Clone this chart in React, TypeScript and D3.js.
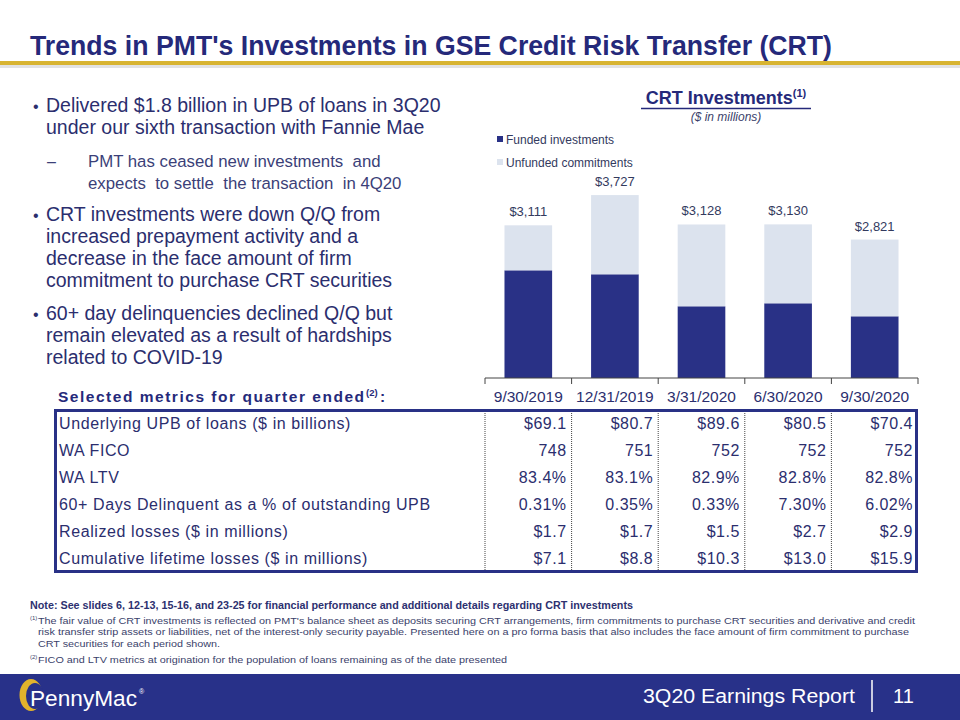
import React from "react";
import * as d3 from "d3";

const quarters = ["9/30/2019", "12/31/2019", "3/31/2020", "6/30/2020", "9/30/2020"];
const funded = [2194, 2113, 1461, 1522, 1257];
const unfunded = [917, 1614, 1667, 1608, 1564];
const seriesNames = ["Funded investments", "Unfunded commitments"];

const upbBillions = [69.1, 80.7, 89.6, 80.5, 70.4];
const waFico = [748, 751, 752, 752, 752];
const waLtv = [83.4, 83.1, 82.9, 82.8, 82.8];
const delinquentPct = [0.31, 0.35, 0.33, 7.3, 6.02];
const realizedLosses = [1.7, 1.7, 1.5, 2.7, 2.9];
const cumulativeLosses = [7.1, 8.8, 10.3, 13.0, 15.9];

const rowLabels = [
  "Underlying UPB of loans ($ in billions)",
  "WA FICO",
  "WA LTV",
  "60+ Days Delinquent as a % of outstanding UPB",
  "Realized losses ($ in millions)",
  "Cumulative lifetime losses ($ in millions)",
];

const bullets = [
  { lines: ["Delivered $1.8 billion in UPB of loans in 3Q20", "under our sixth transaction with Fannie Mae"], y: [112, 134] },
  { lines: ["CRT investments were down Q/Q from", "increased prepayment activity and a", "decrease in the face amount of firm", "commitment to purchase CRT securities"], y: [221, 243, 265, 287] },
  { lines: ["60+ day delinquencies declined Q/Q but", "remain elevated as a result of hardships", "related to COVID-19"], y: [320, 342, 364] },
];
const subBullet = { lines: ["PMT has ceased new investments  and", "expects  to settle  the transaction  in 4Q20"], y: [167, 189] };

const NAVY = "#293186";
const LIGHT = "#dce3ee";
const TEXT = "#2b2e6e";
const FONT = "'Liberation Sans', Arial, sans-serif";

export default function App() {
  const x = d3.scaleBand<string>().domain(quarters).range([485, 918]).paddingInner(0.45).paddingOuter(0.225);
  const y = d3.scaleLinear().domain([0, 4000]).range([378, 378 - 4000 * 0.04908]);
  const stack = d3.stack<number>().keys(["f", "u"]).value((i, k) => (k === "f" ? funded[i] : unfunded[i]));
  const layers = stack(quarters.map((_, i) => i) as any);
  const totals = quarters.map((_, i) => funded[i] + unfunded[i]);
  const fmtTotal = d3.format("$,");
  const f1 = d3.format(".1f");
  const f2 = d3.format(".2f");
  const rows: string[][] = [
    upbBillions.map((v) => "$" + f1(v)),
    waFico.map((v) => d3.format("d")(v)),
    waLtv.map((v) => f1(v) + "%"),
    delinquentPct.map((v) => f2(v) + "%"),
    realizedLosses.map((v) => "$" + f1(v)),
    cumulativeLosses.map((v) => "$" + f1(v)),
  ];
  const bounds = [485, ...quarters.map((q) => (x(q) as number) + x.bandwidth() + (x.step() - x.bandwidth()) / 2)];
  const rowY = (i: number) => 428.5 + i * 27;

  return (
    <svg width={960} height={720} style={{ position: "absolute", left: 0, top: 0, background: "#fff" }} fontFamily={FONT}>
      {/* Title */}
      <text x={30} y={55} fontSize={27} fontWeight="bold" fill="#25297a" fontFamily="'Liberation Sans Narrow', 'Arial Narrow', 'Liberation Sans', sans-serif" textLength={802} lengthAdjust="spacingAndGlyphs">
        Trends in PMT's Investments in GSE Credit Risk Transfer (CRT)
      </text>
      <rect x={0} y={65} width={960} height={3} fill="#cfcfcf" opacity={0.6} />
      <rect x={0} y={61} width={960} height={4} fill="#d8b431" />

      {/* Bullets */}
      {bullets.map((b, bi) => (
        <g key={bi}>
          <text x={33} y={b.y[0]} fontSize={16} fill={TEXT}>•</text>
          {b.lines.map((l, li) => (
            <text key={li} x={46} y={b.y[li]} fontSize={19.5} fill={TEXT} style={{ whiteSpace: "pre" }}>{l}</text>
          ))}
        </g>
      ))}
      <text x={47} y={subBullet.y[0]} fontSize={16} fill="#3b3f78">–</text>
      {subBullet.lines.map((l, li) => (
        <text key={li} x={88} y={subBullet.y[li]} fontSize={16.8} fill="#3b3f78" style={{ whiteSpace: "pre" }}>{l}</text>
      ))}

      {/* Chart title */}
      <text x={726} y={104} textAnchor="middle" fontSize={18} fontWeight="bold" fill="#25297a">
        CRT Investments<tspan fontSize={11} dy={-7}>(1)</tspan>
      </text>
      <line x1={641} x2={811} y1={108.5} y2={108.5} stroke="#25297a" strokeWidth={1.5} />
      <text x={726} y={121} textAnchor="middle" fontSize={12} fontStyle="italic" fill="#3b3f6b">($ in millions)</text>

      {/* Legend */}
      {seriesNames.map((s, i) => (
        <g key={s}>
          <rect x={497} y={136 + i * 23} width={6} height={6} fill={i === 0 ? NAVY : LIGHT} />
          <text x={506} y={143.5 + i * 23} fontSize={12} fill="#333a5e">{s}</text>
        </g>
      ))}

      {/* Bars */}
      {layers.map((layer, li) => (
        <g key={li}>
          {layer.map((d, i) => (
            <rect key={i} x={x(quarters[i])} y={y(d[1])} width={x.bandwidth()} height={y(d[0]) - y(d[1])} fill={li === 0 ? NAVY : LIGHT} />
          ))}
        </g>
      ))}
      {totals.map((t, i) => (
        <text key={i} x={(x(quarters[i]) as number) + x.bandwidth() / 2} y={y(t) - 9} textAnchor="middle" fontSize={13} fill="#333a5e">
          {fmtTotal(t)}
        </text>
      ))}
      {/* Axis */}
      <line x1={485} x2={918} y1={378} y2={378} stroke="#444" strokeWidth={1} />
      {bounds.map((b, i) => (
        <line key={i} x1={b} x2={b} y1={378} y2={384} stroke="#444" strokeWidth={1} />
      ))}

      {/* Table header */}
      <text x={58} y={402} fontSize={15.5} fontWeight="bold" fill="#25297a" textLength={306} lengthAdjust="spacing">
        Selected metrics for quarter ended
      </text>
      <text x={366} y={396} fontSize={9.5} fontWeight="bold" fill="#25297a">(2)</text>
      <text x={380} y={402} fontSize={15.5} fontWeight="bold" fill="#25297a">:</text>
      {quarters.map((q) => (
        <text key={q} x={(x(q) as number) + x.bandwidth() / 2} y={402} textAnchor="middle" fontSize={15.5} fill={TEXT}>{q}</text>
      ))}

      {/* Table */}
      {bounds.slice(0, 5).map((b, i) => (
        <line key={i} x1={b} x2={b} y1={411} y2={571} stroke="#444" strokeWidth={1} strokeDasharray="1,1" />
      ))}
      <rect x={55.5} y={410.5} width={861} height={161} fill="none" stroke={NAVY} strokeWidth={3} />
      {rowLabels.map((r, i) => (
        <text key={r} x={59} y={rowY(i)} fontSize={16} letterSpacing={0.6} fill={TEXT}>{r}</text>
      ))}
      {rows.map((row, ri) =>
        row.map((v, ci) => (
          <text key={ri + "-" + ci} x={bounds[ci + 1] - 5} y={rowY(ri)} textAnchor="end" fontSize={16} letterSpacing={0.5} fill={TEXT}>{v}</text>
        ))
      )}

      {/* Footnotes */}
      <text x={30} y={609} fontSize={10} fontWeight="bold" fill="#2d3170" textLength={603} lengthAdjust="spacingAndGlyphs">
        Note: See slides 6, 12-13, 15-16, and 23-25 for financial performance and additional details regarding CRT investments
      </text>
      <text x={30} y={620} fontSize={6} fill="#3b3f6b">(1)</text>
      <text x={38} y={624} fontSize={9.5} fill="#3b3f6b" textLength={877} lengthAdjust="spacingAndGlyphs">
        The fair value of CRT investments is reflected on PMT's  balance sheet as deposits securing CRT arrangements, firm commitments  to purchase CRT securities and derivative and credit
      </text>
      <text x={38} y={635} fontSize={9.5} fill="#3b3f6b" textLength={871} lengthAdjust="spacingAndGlyphs">
        risk transfer strip assets or liabilities, net of the interest-only security payable.  Presented here on a pro forma basis that also includes the face amount of firm commitment  to purchase
      </text>
      <text x={38} y={647} fontSize={9.5} fill="#3b3f6b" textLength={182} lengthAdjust="spacingAndGlyphs">
        CRT  securities for each period shown.
      </text>
      <text x={30} y={659} fontSize={6} fill="#3b3f6b">(2)</text>
      <text x={38} y={663} fontSize={9.5} fill="#3b3f6b" textLength={469} lengthAdjust="spacingAndGlyphs">
        FICO  and LTV metrics at origination  for the population  of loans remaining  as of the date presented
      </text>

      {/* Footer */}
      <rect x={0} y={674} width={960} height={46} fill="#283189" />
      <ellipse cx={31} cy={695} rx={11.5} ry={16} fill="#e2b32c" />
      <ellipse cx={35} cy={696} rx={9} ry={13} fill="#283189" />
      <text x={30} y={706} fontSize={22} fill="#fff" textLength={107} lengthAdjust="spacingAndGlyphs">PennyMac</text>
      <text x={139} y={694} fontSize={7} fill="#fff">®</text>
      <text x={643} y={703} fontSize={20} fill="#fff" textLength={212} lengthAdjust="spacingAndGlyphs">3Q20 Earnings Report</text>
      <line x1={872} x2={872} y1={680} y2={712} stroke="#fff" strokeWidth={1.5} />
      <text x={893} y={703} fontSize={20} fill="#fff">11</text>
    </svg>
  );
}
